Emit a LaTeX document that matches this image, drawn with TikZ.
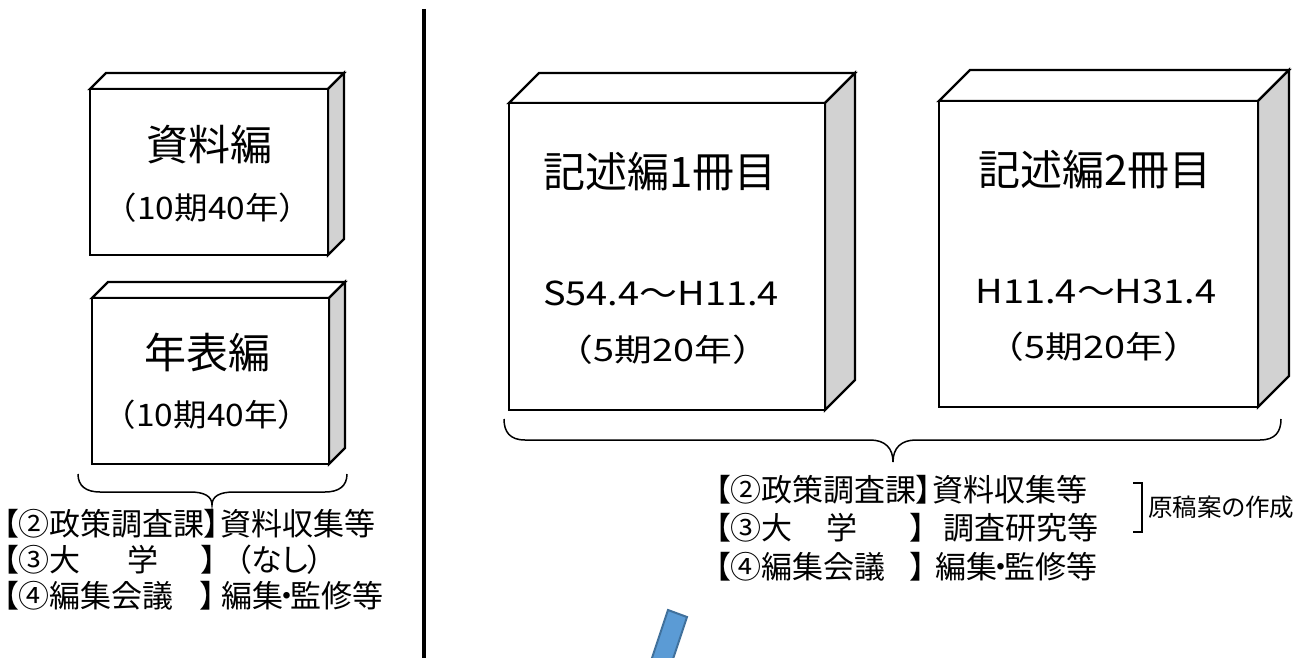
\documentclass[tikz,border=0pt]{standalone}
\usepackage{fontspec}
\usepackage{graphicx}
\newfontfamily\jp{Noto Sans CJK JP}
\newfontfamily\jpp[RawFeature=+palt]{Noto Sans CJK JP}
\definecolor{bluefill}{HTML}{5B9BD5}
\definecolor{blueline}{HTML}{41719C}
\definecolor{sidegray}{HTML}{D2D2D2}
\newcommand\cubebox[5]{%
  \draw[cubeline,fill=white] (#1,#2) -- (#1+#5,#2-#5) -- (#3+#5,#2-#5) -- (#3,#2) -- cycle;
  \draw[cubeline,fill=sidegray] (#3,#2) -- (#3+#5,#2-#5) -- (#3+#5,#4-#5) -- (#3,#4) -- cycle;
  \draw[cubeline,fill=white] (#1,#2) rectangle (#3,#4);
}
\newcommand\nakaguro{\hspace{-0.14em}・\hspace{-0.14em}}
\begin{document}
\begin{tikzpicture}[x=1pt,y=-1pt,
  cubeline/.style={line width=2.4pt,black,line join=miter},
  boxtitle/.style={inner sep=0pt,font=\jp\fontsize{42}{50}\selectfont},
  boxsub/.style={inner sep=0pt,font=\jp\fontsize{31}{37}\selectfont},
  boxdate/.style={inner sep=0pt,font=\jp\fontsize{33}{40}\selectfont},
  roletext/.style={inner sep=0pt,anchor=west,font=\jpp\fontsize{31}{37}\selectfont},
  notetext/.style={inner sep=0pt,anchor=west,font=\jpp\fontsize{24.5}{29}\selectfont},
  bracestyle/.style={line width=1.5pt,black},
]
\useasboundingbox (0,0) rectangle (1296,658);
\fill[white] (0,0) rectangle (1296,658);

% divider
\draw[line width=3.5pt] (424,9) -- (424,658);

% cubes
\cubebox{90}{89}{328}{255}{16}
\cubebox{92}{298}{329}{464}{16}
\cubebox{509}{103}{825}{410}{30}
\cubebox{939}{101}{1258}{407}{31}

% cube texts
\node[boxtitle] (t1) at (209,145) {資料編};
\node[boxsub] (s1) at (208,208) {\scalebox{1.08}[1]{（10期40年）}};
\node[boxtitle] (t2) at (207,352) {年表編};
\node[boxsub] (s2) at (207,415) {\scalebox{1.08}[1]{（10期40年）}};
\node[boxtitle] (t3) at (660,172) {記述編1冊目};
\node[boxdate] (d3) at (661,293) {\scalebox{1.15}[1]{S54.4～H11.4}};
\node[boxsub] (s3) at (663,350) {\scalebox{1.22}[1]{（5期20年）}};
\node[boxtitle] (t4) at (1095,170) {記述編2冊目};
\node[boxdate] (d4) at (1096,292) {\scalebox{1.15}[1]{H11.4～H31.4}};
\node[boxsub] (s4) at (1094,347) {\scalebox{1.22}[1]{（5期20年）}};

% braces
\draw[bracestyle] (78,474) .. controls (78,486) and (86,492) .. (100,492) -- (190,492)
  .. controls (204,492) and (212,496) .. (212,505)
  .. controls (212,496) and (220,492) .. (234,492) -- (325,492)
  .. controls (339,492) and (347,486) .. (347,474);
\draw[bracestyle] (504,419) .. controls (504,432) and (510,440) .. (525,440) -- (870,440)
  .. controls (885,440) and (893,448) .. (893,462)
  .. controls (893,448) and (901,440) .. (916,440) -- (1260,440)
  .. controls (1275,440) and (1281,432) .. (1281,419);

% left roles
\node[roletext] (l1) at (3,524) {【②政策調査課】資料収集等};
\node[roletext] (l2) at (3,560) {【③大\hspace{1.5em}学\hspace{1.4em}】\hspace{0.6em}（なし）};
\node[roletext] (l3) at (3,596) {【④編集会議\hspace{0.85em}】\hspace{0.2em}編集\nakaguro 監修等};

% right roles
\node[roletext] (r1) at (715,490) {【②政策調査課】資料収集等};
\node[roletext] (r2) at (715,528) {【③大\hspace{1.1em}学\hspace{1.7em}】\hspace{0.55em}調査研究等};
\node[roletext] (r3) at (715,567) {【④編集会議\hspace{0.8em}】\hspace{0.3em}編集\nakaguro 監修等};

% bracket and note
\draw[line width=1.2pt] (1133,483) -- (1142,483) -- (1142,532) -- (1133,532);
\node[notetext] (note) at (1148,507) {原稿案の作成};

% blue shape (partly visible)
\begin{scope}
  \clip (0,0) rectangle (1296,658);
  \draw[draw=blueline,fill=bluefill,line width=2pt,line join=miter]
    (668,610) -- (687,617) -- (661.7,692.9) -- (642.7,685.9) -- cycle;
\end{scope}
\end{tikzpicture}
\end{document}
